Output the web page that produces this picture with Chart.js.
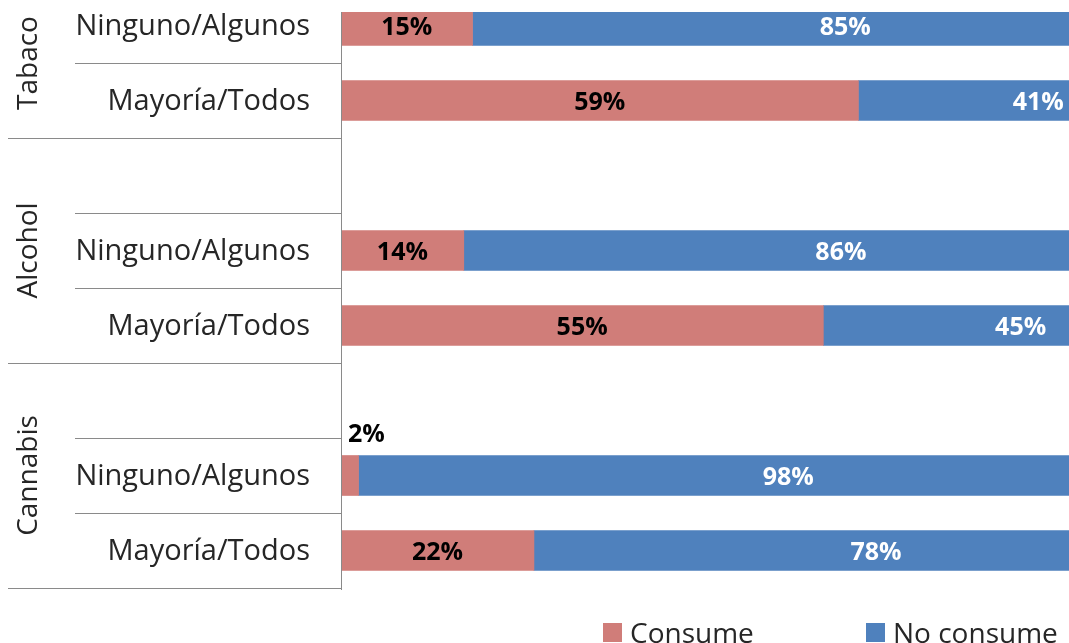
<!DOCTYPE html>
<html>
<head>
<meta charset="utf-8">
<script src="https://cdn.jsdelivr.net/npm/chart.js@4"></script>
<style>
html, body { margin: 0; padding: 0; overflow: hidden; background: #fff; }
#wrap { position: relative; width: 1069px; height: 643px; overflow: hidden; }
#consumo { position: absolute; left: 0; top: 0; }
</style>
</head>
<body>
<div id="wrap"><canvas id="consumo" width="1218" height="660"></canvas></div>
<script>
var categorias = ["Ninguno/Algunos", "Mayoría/Todos", "", "Ninguno/Algunos", "Mayoría/Todos", "", "Ninguno/Algunos", "Mayoría/Todos"];
var grupos = ["Tabaco", "Alcohol", "Cannabis"];
var grupoInicio = [0, 2, 5];
var grupoFin = [1, 4, 7];
var consume = [15, 59, null, 14, 55, null, 2, 22];
var noConsume = [85, 41, null, 86, 45, null, 98, 78];

var fuente = "'Open Sans', sans-serif";
var gris = "#8a8a8a";

function puntos(valores) {
    var out = [];
    valores.forEach(function (v, i) {
        if (v !== null) out.push({ x: v, y: i });
    });
    return out;
}

// lineas de separacion, etiquetas de grupo, etiquetas de datos y leyenda
var extras = {
    id: 'extras',
    afterDatasetsDraw: function (chart) {
        var ctx = chart.ctx;
        var xs = chart.scales.x;
        ctx.save();
        ctx.font = "bold 25px " + fuente;
        ctx.textBaseline = 'middle';
        chart.data.datasets.forEach(function (ds, d) {
            var meta = chart.getDatasetMeta(d);
            meta.data.forEach(function (bar, k) {
                var p = ds.data[k];
                var base = 0;
                for (var j = 0; j < d; j++) {
                    var prev = chart.data.datasets[j].data.find(function (q) { return q.y === p.y; });
                    if (prev) base += prev.x;
                }
                var txt = p.x + '%';
                ctx.fillStyle = d === 0 ? '#000' : '#fff';
                if (p.x < 5) {
                    ctx.fillStyle = '#000';
                    ctx.textAlign = 'left';
                    ctx.fillText(txt, xs.getPixelForValue(0) + 7, bar.y - 41);
                } else {
                    ctx.textAlign = 'center';
                    ctx.fillText(txt, xs.getPixelForValue(base + p.x / 2), bar.y + 2);
                }
            });
        });
        ctx.restore();
    },
    afterDraw: function (chart) {
        var ctx = chart.ctx;
        var ys = chart.scales.y;
        var area = chart.chartArea;
        ctx.save();
        ctx.strokeStyle = gris;
        ctx.lineWidth = 1;
        // eje vertical
        ctx.beginPath();
        ctx.moveTo(area.left + 0.5, area.top);
        ctx.lineTo(area.left + 0.5, ys.getPixelForValue(7.5) + 2);
        ctx.stroke();
        // separadores
        for (var i = 0; i < categorias.length; i++) {
            var y = Math.round(ys.getPixelForValue(i + 0.5)) + 0.5;
            var largo = grupoFin.indexOf(i) >= 0;
            ctx.beginPath();
            ctx.moveTo(largo ? 8 : 75, y);
            ctx.lineTo(area.left, y);
            ctx.stroke();
        }
        // nombres de grupo
        ctx.fillStyle = '#262626';
        ctx.font = "28px " + fuente;
        ctx.textAlign = 'center';
        ctx.textBaseline = 'alphabetic';
        grupos.forEach(function (g, k) {
            var yc = (ys.getPixelForValue(grupoInicio[k] - 0.5) + ys.getPixelForValue(grupoFin[k] + 0.5)) / 2;
            ctx.save();
            ctx.translate(37, yc);
            ctx.rotate(-Math.PI / 2);
            ctx.fillText(g, 0, 0);
            ctx.restore();
        });
        // leyenda
        var lx = [603, 866];
        ctx.textAlign = 'left';
        chart.data.datasets.forEach(function (ds, d) {
            ctx.fillStyle = ds.backgroundColor;
            ctx.fillRect(lx[d], 623, 19, 19);
            ctx.fillStyle = '#262626';
            ctx.fillText(ds.label, lx[d] + 27, 643);
        });
        ctx.restore();
    }
};

new Chart('consumo', {
    type: 'bar',
    data: {
        datasets: [{
            label: "Consume",
            data: puntos(consume),
            backgroundColor: "#D07D79",
            barThickness: 40,
            clip: 0
        }, {
            label: "No consume",
            data: puntos(noConsume),
            backgroundColor: "#4F81BD",
            barThickness: 40,
            clip: 0
        }]
    },
    options: {
        indexAxis: 'y',
        responsive: false,
        animation: false,
        layout: { padding: { top: 12, bottom: 72, left: 0, right: 0 } },
        scales: {
            x: {
                type: 'linear',
                display: false,
                stacked: true,
                min: 0,
                max: 100
            },
            y: {
                type: 'linear',
                stacked: true,
                reverse: true,
                offset: false,
                min: -0.18,
                max: 7.5,
                grid: { display: false, drawTicks: true, tickLength: 31 },
                border: { display: false },
                afterFit: function (s) {
                    s.width = 341;
                    s.paddingTop = 0;
                    s.paddingBottom = 0;
                },
                afterBuildTicks: function (s) {
                    s.ticks = categorias.map(function (c, i) { return { value: i }; });
                },
                ticks: {
                    padding: 0,
                    labelOffset: 1,
                    color: '#262626',
                    font: { family: fuente, size: 29 },
                    callback: function (v) { return categorias[v]; }
                }
            }
        },
        plugins: {
            legend: { display: false },
            tooltip: { enabled: false }
        }
    },
    plugins: [extras]
});
</script>
</body>
</html>
